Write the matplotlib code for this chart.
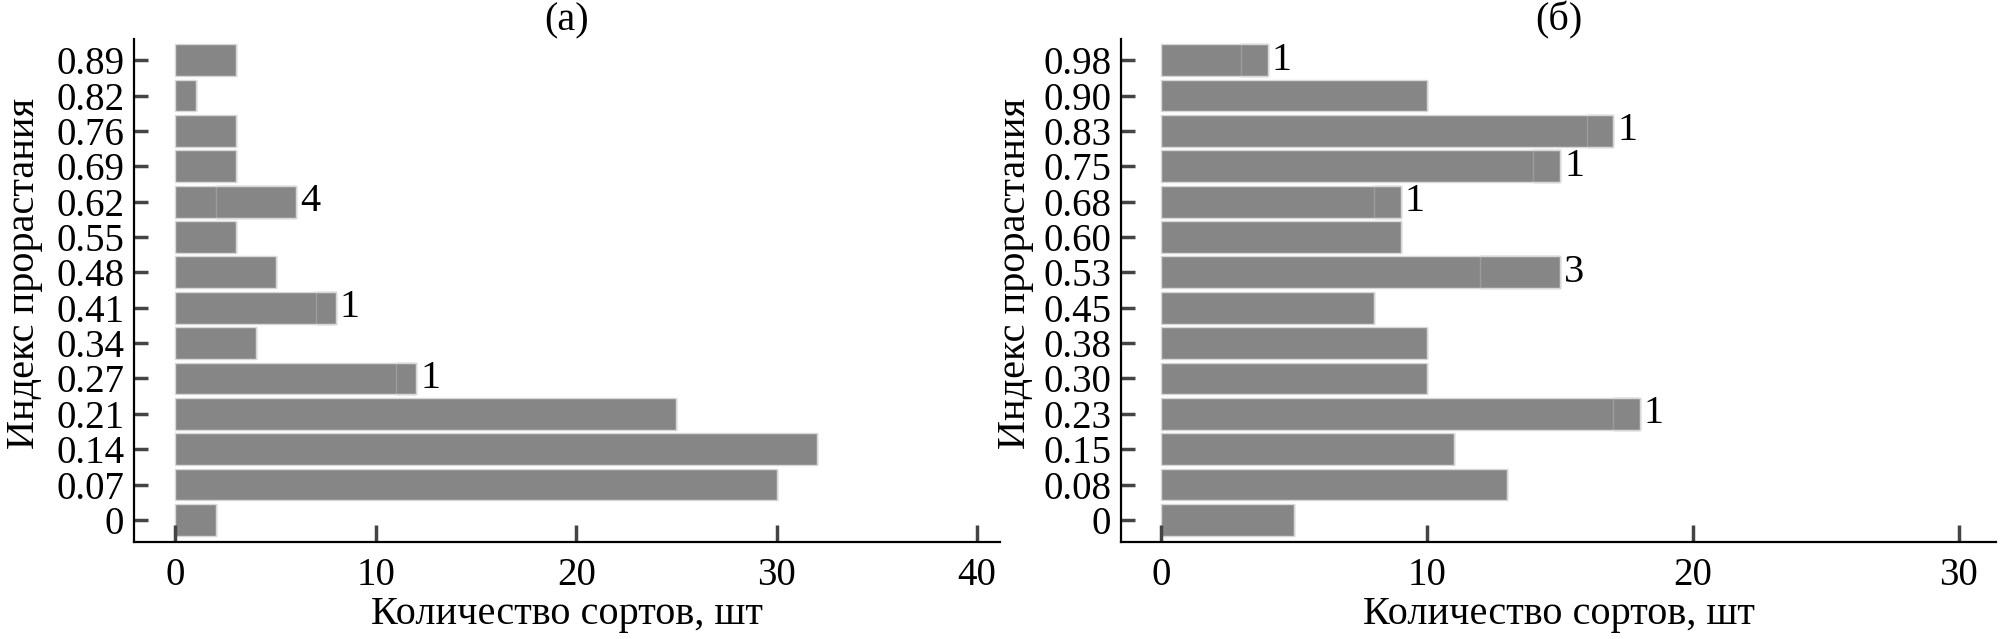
import matplotlib
matplotlib.use('Agg')
import matplotlib.pyplot as plt
import numpy as np

plt.rcParams['font.family'] = ['Liberation Serif', 'DejaVu Serif']

cats_a = ['0', '0.07', '0.14', '0.21', '0.27', '0.34', '0.41', '0.48', '0.55', '0.62', '0.69', '0.76', '0.82', '0.89']
base_a = [2, 30, 32, 25, 11, 4, 7, 5, 3, 2, 3, 3, 1, 3]
extra_a = [0, 0, 0, 0, 1, 0, 1, 0, 0, 4, 0, 0, 0, 0]

cats_b = ['0', '0.08', '0.15', '0.23', '0.30', '0.38', '0.45', '0.53', '0.60', '0.68', '0.75', '0.83', '0.90', '0.98']
base_b = [5, 13, 11, 17, 10, 10, 8, 12, 9, 8, 14, 16, 10, 3]
extra_b = [0, 0, 0, 1, 0, 0, 0, 3, 0, 1, 1, 1, 0, 1]

bar_color = '#868686'
edge_color = '#d8d8d8'
split_color = '#9c9c9c'


def draw_panel(ax, cats, base, extra, title, xticks, xlim, ylab_x):
    y = np.arange(len(cats))
    total = [b + e for b, e in zip(base, extra)]
    ax.barh(y, base, height=0.9, color=bar_color, linewidth=0)
    ax.barh(y, extra, left=base, height=0.9, color=bar_color, edgecolor=split_color, linewidth=1.0)
    ax.barh(y, total, height=0.9, fill=False, edgecolor=edge_color, linewidth=1.0)
    for i in range(len(cats)):
        if extra[i] > 0:
            ax.annotate(str(extra[i]), (total[i], y[i]), xytext=(3, 0), textcoords='offset points',
                        va='center', ha='left', fontsize=29)
    ax.set_yticks(y)
    ax.set_yticklabels(cats)
    ax.set_xticks(xticks)
    ax.set_ylim(-0.62, len(cats) - 0.4)
    ax.set_xlim(xlim)
    ax.spines['top'].set_visible(False)
    ax.spines['right'].set_visible(False)
    ax.spines['left'].set_linewidth(1.6)
    ax.spines['bottom'].set_linewidth(1.6)
    ax.tick_params(axis='both', direction='in', labelsize=28, width=2.5, color='#444444')
    ax.tick_params(axis='y', length=10, pad=7)
    ax.tick_params(axis='x', length=12, pad=11)
    ax.set_title(title, fontsize=29, pad=2)
    ax.set_xlabel('Количество сортов, шт', fontsize=29)
    ax.set_ylabel('Индекс прорастания', fontsize=29)
    ax.xaxis.set_label_coords(0.5, -0.145)
    ax.xaxis.label.set_va('center')
    ax.yaxis.set_label_coords(ylab_x, 0.533)
    ax.yaxis.label.set_va('center')


fig = plt.figure(figsize=(20.06, 6.39), dpi=100)
ax1 = fig.add_axes([0.0668, 0.152, 0.4317, 0.787])
ax2 = fig.add_axes([0.5588, 0.152, 0.4362, 0.787])

draw_panel(ax1, cats_a, base_a, extra_a, '(a)', [0, 10, 20, 30, 40], (-2.07, 41.15), -0.126)
draw_panel(ax2, cats_b, base_b, extra_b, '(б)', [0, 10, 20, 30], (-1.52, 31.4), -0.12)

fig.savefig('out.png', dpi=100)
